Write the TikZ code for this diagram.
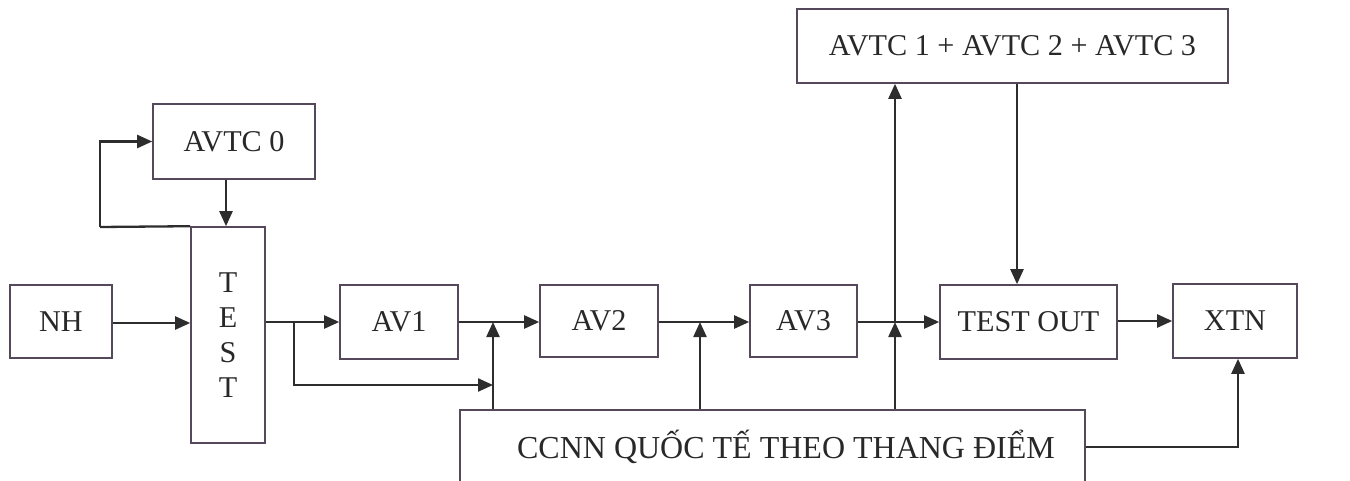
\documentclass[tikz,border=0pt]{standalone}
\usepackage{fontspec}
\setmainfont{Liberation Serif}
\usetikzlibrary{arrows.meta}
\definecolor{boxc}{RGB}{85,72,90}
\definecolor{linec}{RGB}{45,45,45}
\definecolor{txtc}{RGB}{40,40,40}
\begin{document}
\begin{tikzpicture}[x=0.5pt,y=-0.5pt,
  box/.style={draw=boxc, line width=0.8pt, inner sep=0pt, font=\fontsize{15.1}{17.5}\selectfont, text=txtc},
  arr/.style={draw=linec, line width=1.15pt, -{Triangle[length=7.5pt,width=6.5pt]}},
  ln/.style={draw=linec, line width=1.15pt}]
\useasboundingbox (0,0) rectangle (1350,481);
\clip (0,0) rectangle (1350,481);
\node[box, minimum width=51pt, minimum height=36.5pt] (NH) at (61,321.5) {NH};
\node[box, minimum width=81pt, minimum height=37.5pt] (AVTC0) at (234,141.5) {AVTC 0};
\node[box, minimum width=37pt, minimum height=108pt, align=center] (TEST) at (228,335) {T\\E\\S\\T};
\node[box, minimum width=59pt, minimum height=37pt] (AV1) at (399,322) {AV1};
\node[box, minimum width=59pt, minimum height=36pt] (AV2) at (599,321) {AV2};
\node[box, minimum width=53.5pt, minimum height=36pt] (AV3) at (803.5,321) {AV3};
\node[box, minimum width=88.5pt, minimum height=37pt] (TESTOUT) at (1028.5,322) {TEST OUT};
\node[box, minimum width=62pt, minimum height=37pt] (XTN) at (1235,321) {XTN};
\node[box, minimum width=215.5pt, minimum height=37pt] (AVTC123) at (1012.5,46) {AVTC 1 + AVTC 2 + AVTC 3};
\node[box, minimum width=312.5pt, minimum height=45pt] (CCNN) at (772.5,455) {};
\node[font=\fontsize{16}{18}\selectfont, text=txtc, inner sep=0pt] (CCNNT) at (786,447) {CCNN QUỐC TẾ THEO THANG ĐIỂM};
% coordinates
\coordinate (j1) at (294,322);
\coordinate (b1) at (493,385);
\coordinate (k1) at (493,322);
\coordinate (k2) at (700,322);
\coordinate (k3) at (895,322);
\coordinate (t0) at (226,0);
\coordinate (t1) at (1017,0);
\coordinate (x1) at (1238,447);
\coordinate (lp) at (100,227);
% connectors
\draw[ln] (TEST.north west) -- (lp);
\draw[arr] (lp) |- (AVTC0.west);
\draw[arr] (AVTC0.south -| t0) -- (TEST.north -| t0);
\draw[arr] (NH.east |- 0,323) -- (TEST.west |- 0,323);
\draw[arr] (TEST.east |- AV1.west) -- (AV1.west);
\draw[arr] (j1) |- (b1);
\draw[arr] (AV1.east) -- (AV2.west |- AV1.east);
\draw[arr] (CCNN.north -| k1) -- (k1);
\draw[arr] (AV2.east |- k2) -- (AV3.west |- k2);
\draw[arr] (CCNN.north -| k2) -- (k2);
\draw[arr] (AV3.east |- k3) -- (TESTOUT.west |- k3);
\draw[arr] (CCNN.north -| k3) -- (k3);
\draw[arr] (k3) -- (AVTC123.south -| k3);
\draw[arr] (AVTC123.south -| t1) -- (TESTOUT.north -| t1);
\draw[arr] (TESTOUT.east |- XTN.west) -- (XTN.west);
\draw[arr] (CCNN.east |- x1) -| (XTN.south -| x1);
\end{tikzpicture}
\end{document}
